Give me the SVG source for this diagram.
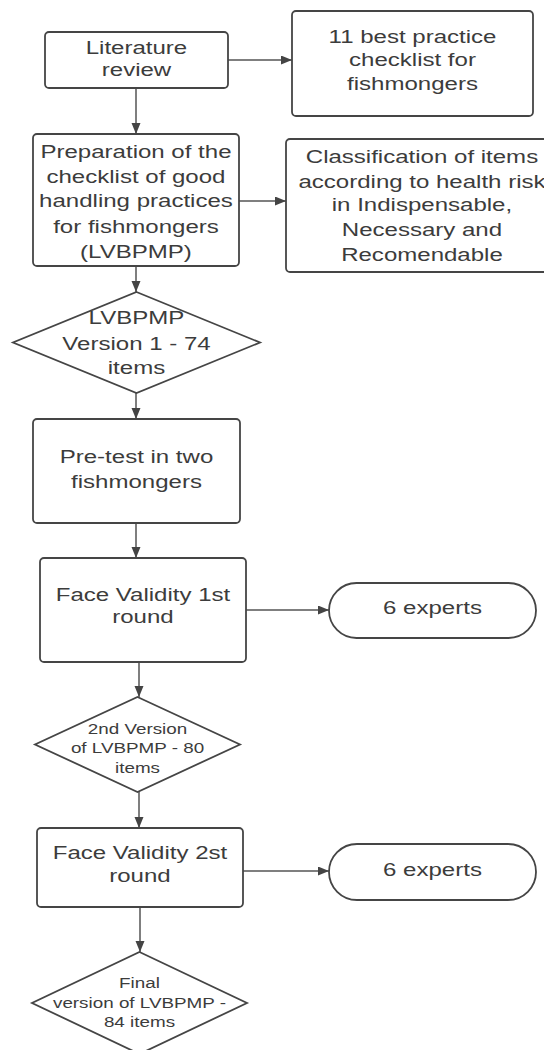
<svg xmlns="http://www.w3.org/2000/svg" width="544" height="1050" viewBox="0 0 544 1050">
<defs>
<style>
.box{fill:#fff;stroke:#454545;stroke-width:1.8}
.t{font-family:"Liberation Sans",Arial,sans-serif;font-size:18.5px;fill:#3c3c3c;text-anchor:middle}
.s{font-size:14.5px}
.c{stroke:#555;stroke-width:1.5;fill:none;marker-end:url(#ah)}
</style>
<marker id="ah" markerUnits="userSpaceOnUse" markerWidth="12" markerHeight="10" refX="11" refY="4.5" orient="auto">
<path d="M0,0 L11,4.5 L0,9 z" fill="#444"/>
</marker>
</defs>
<rect width="544" height="1050" fill="#fff"/>
<g id="connectors">
<line class="c" x1="228" y1="60" x2="292" y2="60"/>
<line class="c" x1="136" y1="88" x2="136" y2="134"/>
<line class="c" x1="239" y1="201" x2="286" y2="201"/>
<line class="c" x1="136" y1="266" x2="136" y2="292"/>
<line class="c" x1="136" y1="393" x2="136" y2="419"/>
<line class="c" x1="136" y1="523" x2="136" y2="558"/>
<line class="c" x1="246" y1="610" x2="329" y2="610"/>
<line class="c" x1="139" y1="662" x2="139" y2="697"/>
<line class="c" x1="139" y1="792" x2="139" y2="828"/>
<line class="c" x1="243" y1="871" x2="329" y2="871"/>
<line class="c" x1="140" y1="907" x2="140" y2="952"/>
</g>
<g id="literature">
<rect class="box" x="45" y="32" width="183" height="56" rx="4"/>
<text class="t" transform="scale(1.3,1)"><tspan x="105" y="54.5">Literature</tspan><tspan x="105" y="76.5">review</tspan></text>
</g>
<g id="best11">
<rect class="box" x="292" y="11" width="241" height="105" rx="4"/>
<text class="t" transform="scale(1.3,1)"><tspan x="317.3" y="43.5">11 best practice</tspan><tspan x="317.3" y="66.5">checklist for</tspan><tspan x="317.3" y="90.5">fishmongers</tspan></text>
</g>
<g id="preparation">
<rect class="box" x="33" y="134" width="206" height="132" rx="4"/>
<text class="t" transform="scale(1.3,1)"><tspan x="104.6" y="158.5">Preparation of the</tspan><tspan x="104.6" y="183.5">checklist of good</tspan><tspan x="104.6" y="207.5">handling practices</tspan><tspan x="104.6" y="233.5">for fishmongers</tspan><tspan x="104.6" y="258.5">(LVBPMP)</tspan></text>
</g>
<g id="classification">
<rect class="box" x="286" y="139" width="272" height="133" rx="4"/>
<text class="t" transform="scale(1.3,1)"><tspan x="324.6" y="163.5">Classification of items</tspan><tspan x="324.6" y="188.5">according to health risk</tspan><tspan x="324.6" y="211.5">in Indispensable,</tspan><tspan x="324.6" y="236.5">Necessary and</tspan><tspan x="324.6" y="261.5">Recomendable</tspan></text>
</g>
<g id="version1">
<polygon class="box" points="136.5,292 260,342.5 136.5,393 13,342.5"/>
<text class="t" transform="scale(1.3,1)"><tspan x="105" y="324.5">LVBPMP</tspan><tspan x="105" y="350.5">Version 1 - 74</tspan><tspan x="105" y="374.5">items</tspan></text>
</g>
<g id="pretest">
<rect class="box" x="33" y="419" width="207" height="104" rx="4"/>
<text class="t" transform="scale(1.3,1)"><tspan x="105" y="463.5">Pre-test in two</tspan><tspan x="105" y="488.5">fishmongers</tspan></text>
</g>
<g id="face1">
<rect class="box" x="40" y="558" width="206" height="104" rx="4"/>
<text class="t" transform="scale(1.3,1)"><tspan x="110" y="601.5">Face Validity 1st</tspan><tspan x="110" y="623.5">round</tspan></text>
</g>
<g id="experts1">
<rect class="box" x="329" y="583" width="207" height="55" rx="27.5"/>
<text class="t" transform="scale(1.3,1)" x="332.7" y="614.5">6 experts</text>
</g>
<g id="version2">
<polygon class="box" points="137.5,697 240,744.5 137.5,792 35,744.5"/>
<text class="t s" transform="scale(1.3,1)"><tspan x="105.8" y="734">2nd Version</tspan><tspan x="105.8" y="753">of LVBPMP - 80</tspan><tspan x="105.8" y="773">items</tspan></text>
</g>
<g id="face2">
<rect class="box" x="37" y="828" width="206" height="79" rx="4"/>
<text class="t" transform="scale(1.3,1)"><tspan x="107.7" y="859.5">Face Validity 2st</tspan><tspan x="107.7" y="882.5">round</tspan></text>
</g>
<g id="experts2">
<rect class="box" x="329" y="844" width="207" height="56" rx="28"/>
<text class="t" transform="scale(1.3,1)" x="332.7" y="876.5">6 experts</text>
</g>
<g id="final">
<polygon class="box" points="139.5,952 247,1003 139.5,1054 32,1003"/>
<text class="t s" transform="scale(1.3,1)"><tspan x="107.3" y="988">Final</tspan><tspan x="107.3" y="1008">version of LVBPMP -</tspan><tspan x="107.3" y="1027">84 items</tspan></text>
</g>
</svg>
